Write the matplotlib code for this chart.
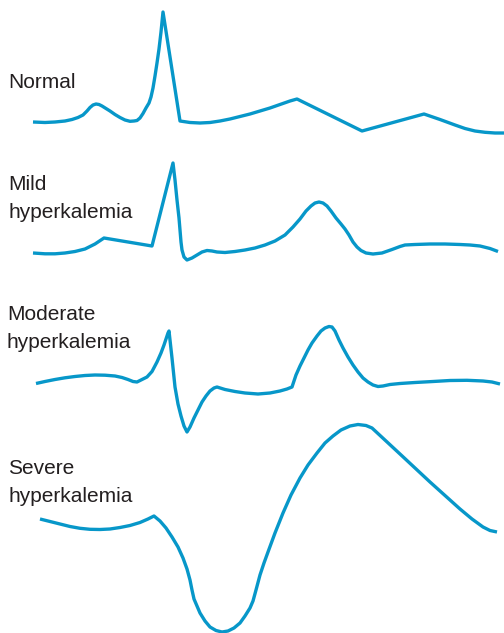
import matplotlib.pyplot as plt

# ECG traces in pixel units (x right, y down)
normal_x = [33, 45, 55, 65, 72, 78, 83, 87, 90, 93, 96, 99, 102, 106, 110, 115, 120, 125, 130, 134, 137, 140, 143,
            146, 149, 151, 153, 155, 157, 159, 161, 163, 180, 190, 200, 210, 220, 230, 240, 250, 260, 270, 280, 290,
            297, 362, 424, 440, 455, 465, 475, 485, 495, 504]
normal_y = [122, 122.5, 122, 121, 119.5, 117.5, 115, 111, 107.5, 105, 104, 104.5, 106, 108.5, 111, 114.5, 117.5, 120,
            121.3, 121, 120.5, 118, 113.5, 108, 103, 97, 88, 76, 63, 49, 32, 12, 121, 122.5, 123, 122.5, 121, 119,
            116.5, 114, 111, 108, 104.5, 101, 99, 131, 114, 119.5, 125, 128.5, 131, 132.3, 133, 133]

mild_x = [33, 45, 55, 65, 75, 85, 95, 104, 152, 173, 175, 177, 179, 180, 181, 182, 184, 187, 192, 197, 202, 207, 212,
          217, 225, 235, 245, 255, 265, 275, 285, 293, 300, 306, 311, 315, 319, 323, 327, 331, 336, 341, 345, 349,
          353, 357, 361, 366, 373, 382, 392, 400, 405, 415, 430, 445, 460, 470, 480, 490, 498]
mild_y = [253, 253.8, 253.8, 253, 251.5, 249, 244, 238, 246, 163, 180, 200, 218, 230, 242, 250, 257, 260, 258, 255,
          252, 250.5, 251, 252, 252.5, 251.5, 250, 248, 245, 241, 235, 227, 219, 211, 206, 203, 202, 203, 206, 211,
          218, 224, 229, 235, 242, 247, 250.5, 253, 254, 253, 249.5, 246.5, 245, 244.5, 244, 244, 244.5, 245, 246,
          248.5, 251.5]

moderate_x = [36, 45, 55, 65, 75, 85, 95, 105, 115, 122, 128, 133, 137, 142, 147, 152, 157, 161, 164, 166, 168, 169,
              170, 172, 175, 178, 181, 184, 187, 190, 194, 198, 202, 206, 210, 214, 217, 225, 235, 245, 258, 270, 280,
              287, 292, 296, 300, 304, 308, 312, 317, 321, 325, 329, 332, 335, 339, 343, 348, 353, 358, 363, 368, 373,
              378, 383, 390, 400, 415, 433, 450, 467, 483, 492, 500]
moderate_y = [383.5, 381.5, 379.5, 377.8, 376.5, 375.5, 375, 375.2, 376, 377.5, 379.5, 381.5, 382, 379.5, 377, 371.5,
              362, 353, 345, 339, 333, 331, 340, 358, 387, 404, 416, 426, 432, 427, 418, 410, 402, 396, 391, 388, 387,
              389.5, 391.5, 393, 394, 393, 391, 389, 387, 375, 366, 358, 350, 343, 336, 331, 328, 326.5, 327, 331, 340,
              348, 357, 365, 372, 378, 382, 385, 386.5, 386, 384.5, 383.5, 382.5, 381.5, 380.5, 380.3, 381, 382, 384]

severe_x = [40, 50, 60, 70, 80, 90, 100, 110, 120, 130, 140, 148, 154, 160, 166, 172, 178, 183, 187, 190, 192, 194,
            197, 200, 205, 210, 216, 222, 228, 234, 240, 245, 250, 253, 256, 260, 264, 268, 275, 283, 291, 300, 308,
            317, 325, 333, 341, 350, 358, 366, 372, 400, 430, 460, 472, 483, 490, 497]
severe_y = [519, 521.5, 524, 526.5, 528.3, 529.3, 529.5, 529, 527.5, 525.5, 522.5, 519, 516, 521, 528, 537, 547, 558,
            569, 580, 590, 599, 606, 613, 621, 627, 630.5, 632, 631, 628, 623, 616, 608, 601, 590, 575, 563, 552, 533,
            513, 495, 478, 465, 453, 443, 436, 430, 426, 424.5, 425.5, 428, 454, 482, 509, 519, 527, 530.5, 532]

traces = [(normal_x, normal_y), (mild_x, mild_y), (moderate_x, moderate_y), (severe_x, severe_y)]

labels = ["Normal", "Mild\nhyperkalemia", "Moderate\nhyperkalemia", "Severe\nhyperkalemia"]
label_pos = [(8, 82), (8, 198), (7, 329), (8, 482)]

line_color = "#0797c9"
text_color = "#231f20"

fig = plt.figure(figsize=(5.04, 6.33), dpi=100)
ax = fig.add_axes([0, 0, 1, 1])
ax.set_xlim(0, 504)
ax.set_ylim(633, 0)
ax.axis("off")

for xs, ys in traces:
    ax.plot(xs, ys, color=line_color, lw=2.4, solid_joinstyle="round", solid_capstyle="butt")

for txt, (x, y) in zip(labels, label_pos):
    ax.text(x, y, txt, ha="left", va="center", fontsize=15, color=text_color,
            family=["Liberation Sans", "DejaVu Sans"], linespacing=1.6)

fig.savefig("out.png", dpi=100)
